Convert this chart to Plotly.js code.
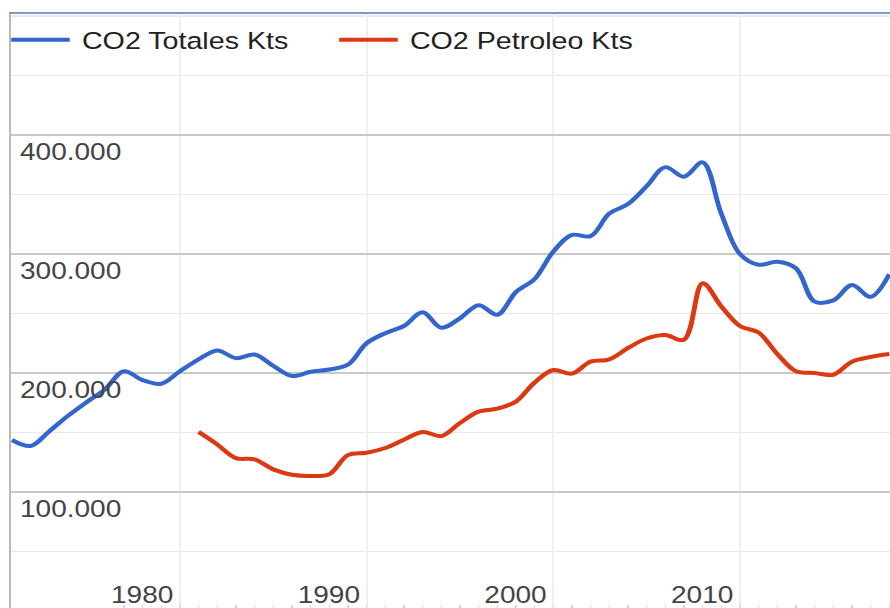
<!DOCTYPE html>
<html>
<head>
<meta charset="utf-8">
<script src="https://cdn.plot.ly/plotly-3.0.1.min.js"></script>
<style>
  html, body { margin: 0; padding: 0; overflow: hidden; background: #fff; }
  #wrap { width: 730px; height: 620px; transform: scaleX(1.2192); transform-origin: 0 0; }
</style>
</head>
<body>
<div id="wrap"><div id="chart"></div></div>
<script>
// Years on the horizontal axis
const years = [1971,1972,1973,1974,1975,1976,1977,1978,1979,1980,
               1981,1982,1983,1984,1985,1986,1987,1988,1989,1990,
               1991,1992,1993,1994,1995,1996,1997,1998,1999,2000,
               2001,2002,2003,2004,2005,2006,2007,2008,2009,2010,
               2011,2012,2013,2014,2015,2016,2017,2018];

// CO2 Totales Kts
const co2Totales = [143700,138700,151000,164000,175500,186500,201500,194000,191000,201500,
                    211500,219000,212500,215500,206000,197500,201000,203000,207000,225000,
                    233500,239500,251000,238000,246000,257000,249000,268000,279000,302000,
                    316000,315000,334000,342000,357000,373000,365000,377000,334000,300000,
                    291000,293500,288000,260000,261000,274000,264000,283000];

// CO2 Petroleo Kts (no data before 1981)
const co2Petroleo = [null,null,null,null,null,null,null,null,null,null,
                     150500,140000,128500,127500,119000,114500,113500,115000,131000,133000,
                     137000,144000,150500,147000,158000,167500,170000,176000,192000,202500,
                     199500,209500,211500,221000,229000,232000,228000,275500,256000,239500,
                     234000,216000,201500,200000,198500,209500,213500,216000];

const seriesNames = ['CO2 Totales Kts', 'CO2 Petroleo Kts'];
const seriesColors = ['#3366cc', '#dc3912'];
const xTickYears = [1980, 1990, 2000, 2010];
const xTickText = ['1980', '1990', '2000', '2010'];
const yTickValues = [100000, 200000, 300000, 400000];

const FONT = 'Liberation Sans, Arial, sans-serif';

const traces = [
  { x: years, y: co2Totales, name: seriesNames[0], type: 'scatter', mode: 'lines',
    line: { color: seriesColors[0], width: 4, shape: 'spline', smoothing: 1 } },
  { x: years, y: co2Petroleo, name: seriesNames[1], type: 'scatter', mode: 'lines',
    line: { color: seriesColors[1], width: 4, shape: 'spline', smoothing: 1 } }
];

const layout = {
  width: 730, height: 620,
  margin: { l: 9, r: 0, t: 14, b: 9, autoexpand: false },
  paper_bgcolor: '#ffffff', plot_bgcolor: '#ffffff',
  font: { family: FONT, size: 23, color: '#444' },
  separators: ',.',
  showlegend: true,
  legend: {
    orientation: 'h', xref: 'container', yref: 'container',
    x: 27.2 / 730, xanchor: 'left', y: 1 - 40 / 620, yanchor: 'middle',
    bgcolor: 'rgba(0,0,0,0)', font: { family: FONT, size: 23.5, color: '#222' },
    entrywidth: 224, entrywidthmode: 'pixels', traceorder: 'normal'
  },
  xaxis: {
    range: [1970.95, 2018.04], tickmode: 'array', tickvals: xTickYears, ticktext: xTickText,
    showgrid: true, gridcolor: '#f0f0f0', gridwidth: 1.6,
    zeroline: false, showline: true, mirror: true, linecolor: '#7b98c6', linewidth: 2,
    ticks: '', ticklabelposition: 'inside', ticklabelshift: -31, ticklabelstandoff: 5,
    tickfont: { family: FONT, size: 23, color: '#444' },
    minor: { dtick: 1, tick0: 1971, ticks: 'inside', ticklen: 6, tickcolor: '#d8d8d8', tickwidth: 1, showgrid: false }
  },
  yaxis: {
    range: [0, 501700], tickmode: 'array', tickvals: yTickValues, tickformat: ',d',
    showgrid: true, gridcolor: '#c9c9c9', gridwidth: 2.4,
    zeroline: false, showline: true, linecolor: '#bdbab6', linewidth: 2,
    ticks: '', ticklabelposition: 'inside', ticklabelshift: 17, ticklabelstandoff: 9,
    tickfont: { family: FONT, size: 23, color: '#444' },
    minor: { dtick: 50000, tick0: 0, showgrid: true, gridcolor: '#e9e9e9', gridwidth: 1.6 }
  }
};

Plotly.newPlot('chart', traces, layout, { staticPlot: true, displayModeBar: false }).then(function () {
  document.querySelectorAll('.legend [clip-path]').forEach(function (el) {
    el.removeAttribute('clip-path');
  });
  document.querySelectorAll('.legend .traces path.js-line').forEach(function (p) {
    p.setAttribute('d', 'M-18,0h48');
  });
});
</script>
</body>
</html>
